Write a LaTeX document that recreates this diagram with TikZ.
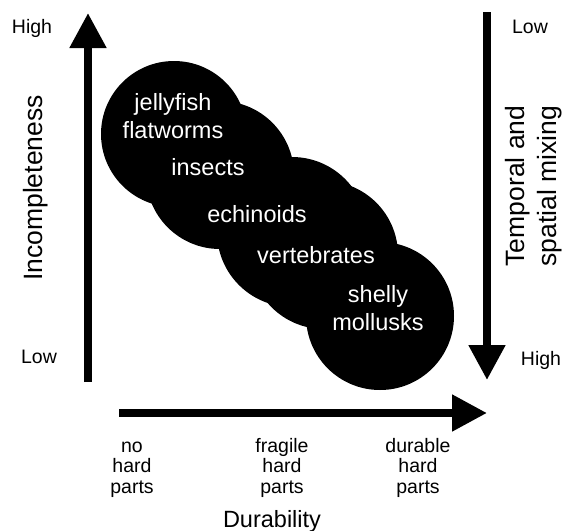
\documentclass[tikz,border=0pt]{standalone}
\usepackage{fontspec}
\setmainfont{Liberation Sans}
\usetikzlibrary{arrows.meta}
\begin{document}
\begin{tikzpicture}[x=1pt,y=-1pt,
  blob/.style={fill=black},
  taxon/.style={text=white,font=\fontsize{23.5}{28}\selectfont,align=center,inner sep=0pt},
  small/.style={font=\fontsize{19.5}{20.5}\selectfont,align=center,inner sep=0pt},
  title/.style={font=\fontsize{26.5}{32}\selectfont,align=center,inner sep=0pt},
  bigarrow/.style={line width=8pt,-{Triangle[length=35pt,width=35pt]}}]
\useasboundingbox[fill=white] (0,0) rectangle (566,531);
% circles
\fill[blob] (174,134) circle (73);
\fill[blob] (220,175) circle (74);
\fill[blob] (292,232) circle (75);
\fill[blob] (324,255) circle (74);
\fill[blob] (380,316) circle (74);
% taxa
\node[taxon,anchor=north] (jf) at (173,90.4) {\strut jellyfish\\flatworms};
\node[taxon,anchor=base] (ins) at (208,175) {insects};
\node[taxon,anchor=base] (ech) at (257,222) {echinoids};
\node[taxon,anchor=base] (ver) at (316,263) {vertebrates};
\node[taxon,anchor=north] (mol) at (378,282.4) {\strut shelly\\mollusks};
% arrows
\coordinate (lb) at (88,382);
\coordinate (lt) at (88,13);
\draw[bigarrow] (lb) -- (lt);
\coordinate (rt) at (487,12);
\coordinate (rb) at (487,380);
\draw[bigarrow] (rt) -- (rb);
\coordinate (bl) at (119,413);
\coordinate (br) at (487,413);
\draw[bigarrow] (bl) -- (br);
% labels
\node[small,anchor=base] (hl) at (32,33) {High};
\node[small,anchor=base] (ll) at (39,363) {Low};
\node[small,anchor=base] (lr) at (530,33) {Low};
\node[small,anchor=base] (hr) at (541,365) {High};
\node[title,rotate=90] (inc) at (36,188) {Incompleteness};
\node[title,rotate=90] (tsm) at (534,186) {Temporal and\\spatial mixing};
\node[small,anchor=north] (nohp) at (132,437.6) {\strut no\\hard\\parts};
\node[small,anchor=north] (frhp) at (282,437.6) {\strut fragile\\hard\\parts};
\node[small,anchor=north] (duhp) at (418,437.6) {\strut durable\\hard\\parts};
\node[anchor=base,font=\fontsize{23.5}{28}\selectfont,inner sep=0pt] (dur) at (272,527) {Durability};
\end{tikzpicture}
\end{document}
